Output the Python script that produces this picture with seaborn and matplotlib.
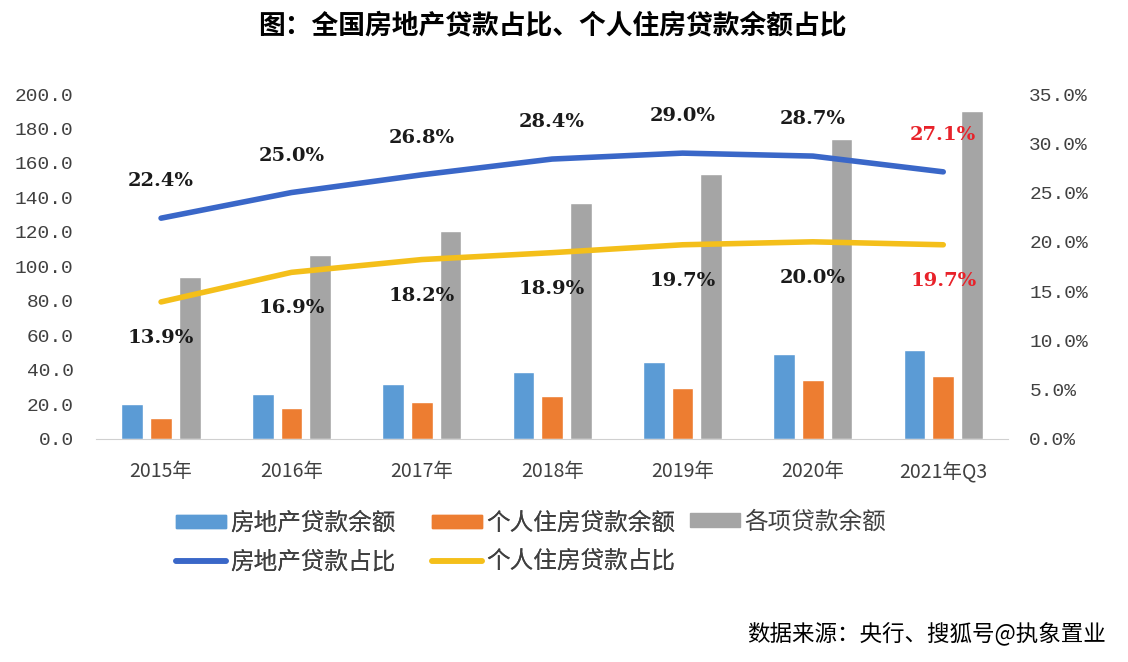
import matplotlib
matplotlib.use('Agg')
import matplotlib.pyplot as plt
import numpy as np
import pandas as pd
import seaborn as sns
from matplotlib.patches import Patch
from matplotlib.lines import Line2D

# data (万亿元 / %)
years = ['2015年', '2016年', '2017年', '2018年', '2019年', '2020年', '2021年Q3']
re_loans = [20.3, 26.2, 32.0, 39.0, 44.8, 49.4, 51.7]
house_loans = [12.0, 17.8, 21.3, 25.0, 29.5, 34.3, 36.6]
total_loans = [93.6, 106.4, 120.3, 136.6, 153.9, 173.8, 190.0]
re_share = [22.4, 25.0, 26.8, 28.4, 29.0, 28.7, 27.1]
house_share = [13.9, 16.9, 18.2, 18.9, 19.7, 20.0, 19.7]

bar_names = ['房地产贷款余额', '个人住房贷款余额', '各项贷款余额']
bar_colors = ['#5B9BD5', '#ED7D31', '#A5A5A5']
line_names = ['房地产贷款占比', '个人住房贷款占比']
line_colors = ['#3A67C8', '#F4BF1A']

sns.set_style('white')
plt.rcParams['font.family'] = ['Noto Sans CJK SC', 'DejaVu Sans']

bars = pd.DataFrame({
    'year': years * 3,
    'value': re_loans + house_loans + total_loans,
    'kind': [n for n in bar_names for _ in years],
})

fig = plt.figure(figsize=(11.28, 6.62), dpi=100)
ax = fig.add_axes([0.085, 0.337, 0.809, 0.521])

sns.barplot(data=bars, x='year', y='value', hue='kind', order=years,
            hue_order=bar_names, palette=bar_colors, width=0.66, gap=0.24,
            ax=ax, legend=False, saturation=1)
ax.set_ylim(0, 200)
ax.set_yticks(np.arange(0, 201, 20))
ax.set_yticklabels(['%.1f' % v for v in np.arange(0, 201, 20)],
                   family='Liberation Mono', fontsize=14, color='#404040')
ax.set_xlim(-0.5, len(years) - 0.5)
ax.set_xlabel('')
ax.set_ylabel('')
ax.tick_params(axis='y', length=0, pad=16)
ax.tick_params(axis='x', length=0, pad=16, labelsize=14, labelcolor='#404040')
for s in ['top', 'right', 'left']:
    ax.spines[s].set_visible(False)
ax.spines['bottom'].set_color('#D0D0D0')

ax2 = ax.twinx()
xs = np.arange(len(years))
lines = pd.DataFrame({'x': np.concatenate([xs, xs]),
                      'share': re_share + house_share,
                      'kind': [n for n in line_names for _ in years]})
sns.lineplot(data=lines, x='x', y='share', hue='kind', hue_order=line_names,
             palette=line_colors, linewidth=4, ax=ax2, legend=False)
ax2.set_ylim(0, 35)
ax2.set_yticks(np.arange(0, 36, 5))
ax2.set_yticklabels(['%.1f%%' % v for v in np.arange(0, 36, 5)],
                    family='Liberation Mono', fontsize=14, color='#404040')
ax2.tick_params(axis='y', length=0, pad=15)
ax2.set_ylabel('')
for s in ax2.spines.values():
    s.set_visible(False)

# data labels
for i, (a, b) in enumerate(zip(re_share, house_share)):
    c = '#E8222A' if i == len(years) - 1 else '#1A1A1A'
    ax2.annotate('%.1f%%' % a, (i, a), xytext=(0, 26.5), textcoords='offset points',
                 ha='center', va='center', fontsize=14, fontweight='bold',
                 family='DejaVu Serif', color=c)
    ax2.annotate('%.1f%%' % b, (i, b), xytext=(0, -26), textcoords='offset points',
                 ha='center', va='center', fontsize=14, fontweight='bold',
                 family='DejaVu Serif', color=c)

# legend: three columns placed like the original
leg_kw = dict(frameon=False, fontsize=17, handlelength=2.1, handleheight=0.5,
              handletextpad=0.2, labelspacing=0.66, borderpad=0,
              borderaxespad=0, labelcolor='#404040', loc='center left')
col1 = [Patch(color=bar_colors[0], label=bar_names[0]),
        Line2D([], [], color=line_colors[0], lw=4, label=line_names[0])]
col2 = [Patch(color=bar_colors[1], label=bar_names[1]),
        Line2D([], [], color=line_colors[1], lw=4, label=line_names[1])]
col3 = [Patch(color=bar_colors[2], label=bar_names[2])]
fig.add_artist(fig.legend(handles=col1, bbox_to_anchor=(176 / 1128, 1 - 542.5 / 662), **leg_kw))
fig.add_artist(fig.legend(handles=col2, bbox_to_anchor=(432 / 1128, 1 - 542.5 / 662), **leg_kw))
fig.legend(handles=col3, bbox_to_anchor=(690 / 1128, 1 - 522 / 662), **leg_kw)

fig.text(0.490, 0.962, '图：全国房地产贷款占比、个人住房贷款余额占比',
         ha='center', va='center', fontsize=19.3, fontweight='bold', color='black')
fig.text(0.98, 0.041, '数据来源：央行、搜狐号@执象置业', ha='right', va='center',
         fontsize=16.2, color='black')

fig.savefig('out.png', dpi=100)
